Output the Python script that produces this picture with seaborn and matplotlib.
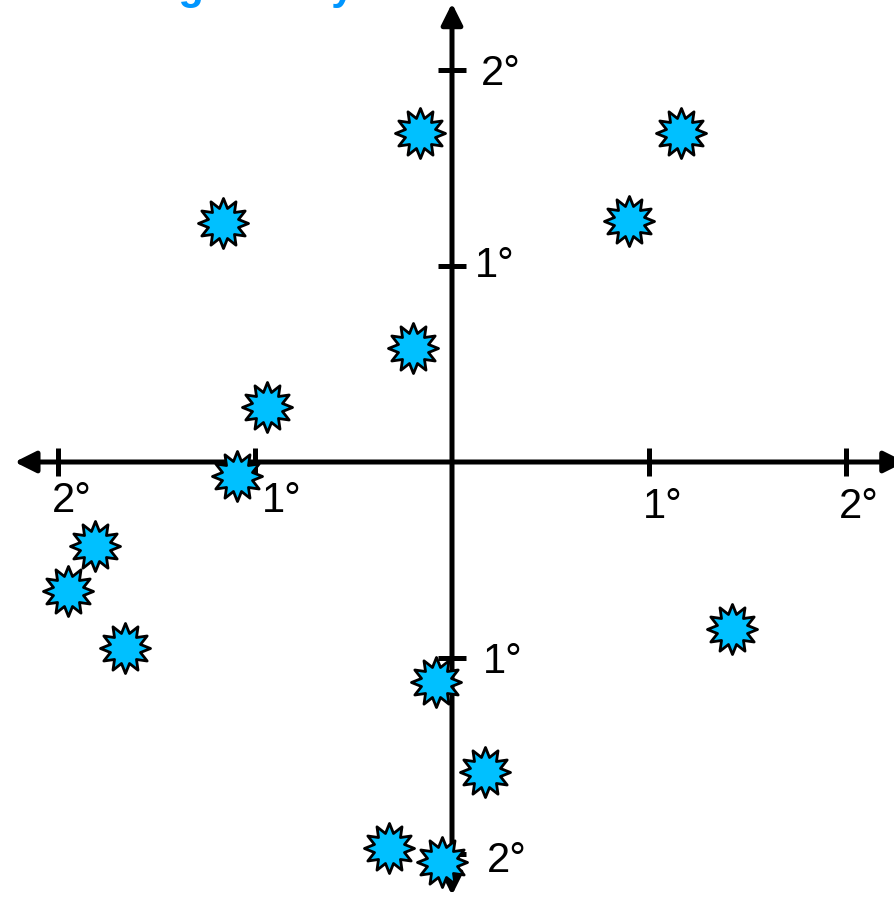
import numpy as np
import pandas as pd
import seaborn as sns
import matplotlib
matplotlib.use('Agg')
import matplotlib.pyplot as plt
from matplotlib.path import Path

# Star offsets in degrees
star_x = [-0.16, 1.16, -1.16, 0.90, -0.20, -0.94, -1.09, -1.81, -1.95, -1.66, 1.42, -0.08, 0.17, -0.32, -0.05]
star_y = [1.68, 1.68, 1.22, 1.23, 0.58, 0.28, -0.07, -0.43, -0.66, -0.95, -0.85, -1.12, -1.58, -1.97, -2.04]

tick_values = [-2, -1, 1, 2]
x_tick_labels = ['2°', '1°', '1°', '2°']
y_tick_labels = ['2°', '1°', '1°', '2°']

title_text = 'Scattering Survey'

# label placement (offset in px from the tick)
x_label_offsets = [(14, -50), (27, -50), (14, -56), (13, -56)]
y_label_offsets = [(55, -18), (51, -15), (43, -11), (49, -15)]

df = pd.DataFrame({'x': star_x, 'y': star_y})

# 12 point star marker
n = 12
ang = np.pi / 2 + np.arange(2 * n) * np.pi / n
rad = np.where(np.arange(2 * n) % 2 == 0, 1.0, 0.62)
verts = np.column_stack([rad * np.cos(ang), rad * np.sin(ang)])
verts = np.vstack([verts, verts[0]])
star = Path(verts, closed=True)

sns.set_style('white')
plt.rcParams['font.family'] = ['Liberation Sans', 'DejaVu Sans']

fig = plt.figure(figsize=(8.94, 8.98), dpi=100)
ax = fig.add_axes([0, 0, 1, 1])
ax.set_xlim(-452 / 197, (894 - 452) / 197)
ax.set_ylim((462 - 898) / 196, 462 / 196)

# axes through the origin with arrows on both ends
arrow_kw = dict(arrowstyle='<|-|>', color='black', lw=3.6, mutation_scale=32,
                shrinkA=0, shrinkB=0)
ax.annotate('', xy=(2.30, 0), xytext=(-2.22, 0), arrowprops=arrow_kw,
            annotation_clip=False)
ax.annotate('', xy=(0, 2.34), xytext=(0, -2.21), arrowprops=arrow_kw,
            annotation_clip=False)

for s in ax.spines.values():
    s.set_position('zero')
    s.set_visible(False)
ax.set_xticks(tick_values)
ax.set_yticks(tick_values)
ax.tick_params(direction='inout', length=20, width=3.6, color='black',
               bottom=True, left=True, top=False, right=False,
               labelbottom=False, labelleft=False)
ax.grid(False)

for v, lab, (dx, dy) in zip(tick_values, x_tick_labels, x_label_offsets):
    ax.annotate(lab, xy=(v, 0), xytext=(dx * 0.72, dy * 0.72), textcoords='offset points',
                ha='center', va='baseline', fontsize=30, color='black')
for v, lab, (dx, dy) in zip(tick_values, y_tick_labels, y_label_offsets):
    ax.annotate(lab, xy=(0, v), xytext=(dx * 0.72, dy * 0.72), textcoords='offset points',
                ha='center', va='baseline', fontsize=30, color='black')

sns.scatterplot(data=df, x='x', y='y', marker=star, s=1300, color='#00c0ff',
                edgecolor='black', linewidth=2, zorder=5, ax=ax, legend=False)
ax.set_xlabel('')
ax.set_ylabel('')

# title, mostly cut off at the top edge
fig.text(0.0, 1.0011, title_text, ha='left', va='baseline', fontsize=30,
         fontweight='bold', color='#0096ff')

fig.savefig('out.png', dpi=100)
